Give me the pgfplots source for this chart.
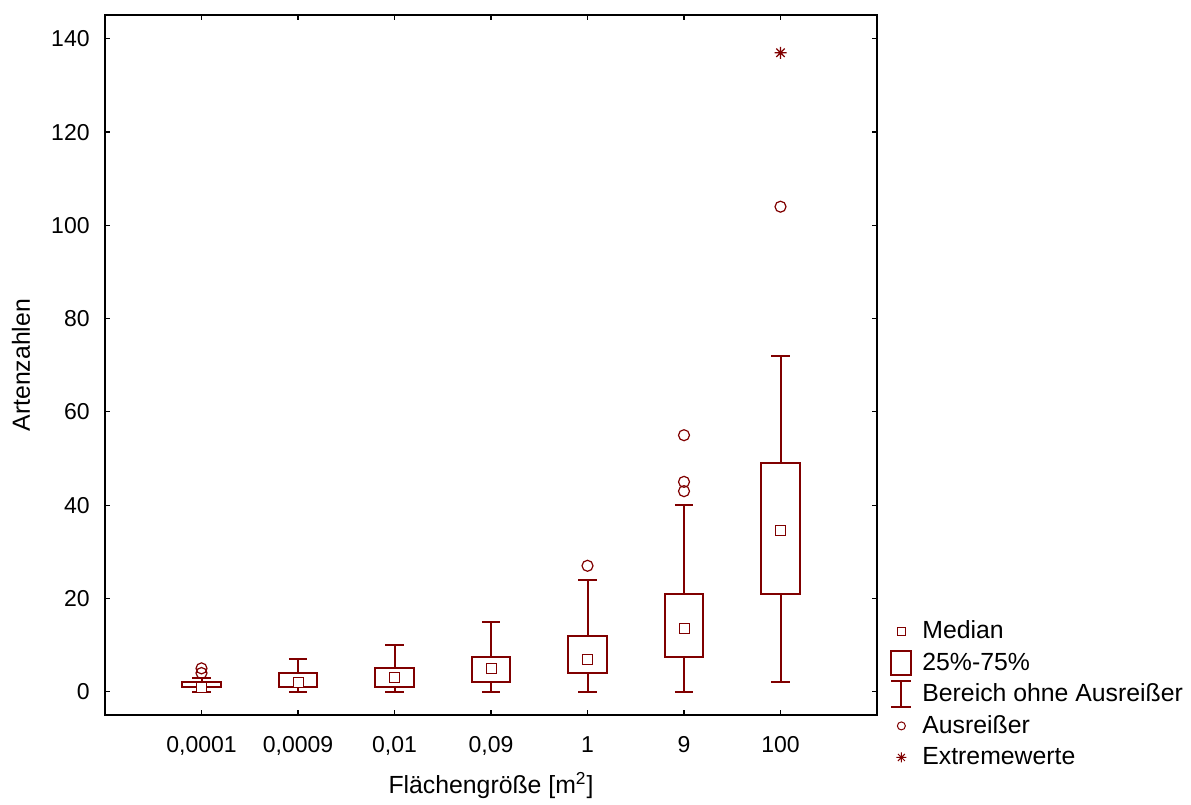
\documentclass[border=0pt]{standalone}
\usepackage{fontspec}
\setmainfont{Liberation Sans}
\usepackage{pgfplots}
\usepgfplotslibrary{statistics}
\pgfplotsset{compat=1.18}

\definecolor{boxred}{RGB}{128,0,0}

% eight-armed star for extreme values
\pgfdeclareplotmark{starburst}{%
  \pgfpathmoveto{\pgfqpoint{-\pgfplotmarksize}{0pt}}%
  \pgfpathlineto{\pgfqpoint{\pgfplotmarksize}{0pt}}%
  \pgfpathmoveto{\pgfqpoint{0pt}{-\pgfplotmarksize}}%
  \pgfpathlineto{\pgfqpoint{0pt}{\pgfplotmarksize}}%
  \pgfpathmoveto{\pgfqpoint{-.7\pgfplotmarksize}{-.7\pgfplotmarksize}}%
  \pgfpathlineto{\pgfqpoint{.7\pgfplotmarksize}{.7\pgfplotmarksize}}%
  \pgfpathmoveto{\pgfqpoint{-.7\pgfplotmarksize}{.7\pgfplotmarksize}}%
  \pgfpathlineto{\pgfqpoint{.7\pgfplotmarksize}{-.7\pgfplotmarksize}}%
  \pgfusepathqstroke}

\pgfplotsset{
  artbox/.style={boxred, line width=1pt, solid, mark=o, mark size=2.75pt,
    mark options={line width=0.6pt, solid, boxred}, forget plot},
}

\begin{document}
\begin{tikzpicture}
\begin{axis}[
  name=ax,
  scale only axis,
  width=386pt, height=349.75pt,
  xmin=-1, xmax=7,
  ymin=-5, ymax=145,
  xtick={0,1,2,3,4,5,6},
  xticklabels={{0,0001},{0,0009},{0,01},{0,09},1,9,100},
  ytick={0,20,...,140},
  tick pos=both,
  tick align=inside,
  major tick length=2.5pt,
  every tick/.style={black, line width=0.6pt},
  axis line style={line width=1pt},
  /pgf/number format/assume math mode=true,
  tick label style={font=\fontsize{11.5}{13}\selectfont},
  xticklabel style={anchor=base, yshift=-18.5pt},
  yticklabel style={anchor=east, inner sep=0pt, xshift=-7.5pt},
  xlabel={Flächengröße [m\textsuperscript{2}]},
  ylabel={Artenzahlen},
  every axis x label/.style={at={(axis description cs:0.5,-0.1115)}, anchor=base,
    font=\fontsize{12.4}{14}\selectfont},
  every axis y label/.style={at={(axis description cs:-0.1088,0.5)}, rotate=90, anchor=center,
    font=\fontsize{12.4}{14}\selectfont},
  boxplot/draw direction=y,
  boxplot/box extend=0.4,
  boxplot/whisker extend=0.19,
  boxplot/draw/median/.code={%
    \node[draw=boxred, line width=0.5pt, fill=white, minimum size=5pt, inner sep=0pt]
      at (boxplot box cs:\pgfplotsboxplotvalue{median},0.5) {};},
  legend style={draw=none, fill=none, at={(axis description cs:1.0168,0.1426)},
    anchor=north west, inner sep=0pt, row sep=0pt, column sep=5pt,
    font=\fontsize{12.4}{14}\selectfont,
    nodes={inner sep=0pt}},
  legend cell align=left,
]

% 0,0001 m2
\addplot[artbox, boxplot prepared={draw position=0,
  lower whisker=0, lower quartile=1, median=1, upper quartile=2, upper whisker=3}]
  coordinates {(0,4) (0,5)};
% 0,0009 m2
\addplot[artbox, boxplot prepared={draw position=1,
  lower whisker=0, lower quartile=1, median=2, upper quartile=4, upper whisker=7}]
  coordinates {};
% 0,01 m2
\addplot[artbox, boxplot prepared={draw position=2,
  lower whisker=0, lower quartile=1, median=3, upper quartile=5, upper whisker=10}]
  coordinates {};
% 0,09 m2
\addplot[artbox, boxplot prepared={draw position=3,
  lower whisker=0, lower quartile=2, median=5, upper quartile=7.5, upper whisker=15}]
  coordinates {};
% 1 m2
\addplot[artbox, boxplot prepared={draw position=4,
  lower whisker=0, lower quartile=4, median=7, upper quartile=12, upper whisker=24}]
  coordinates {(4,27)};
% 9 m2
\addplot[artbox, boxplot prepared={draw position=5,
  lower whisker=0, lower quartile=7.5, median=13.5, upper quartile=21, upper whisker=40}]
  coordinates {(5,43) (5,45) (5,55)};
% 100 m2
\addplot[artbox, boxplot prepared={draw position=6,
  lower whisker=2, lower quartile=21, median=34.5, upper quartile=49, upper whisker=72}]
  coordinates {(6,104)};
% extreme value
\addplot[boxred, only marks, mark=starburst, mark size=3pt, line width=0.6pt, forget plot]
  coordinates {(6,137)};

% legend
\addlegendimage{legend image code/.code={%
  \path[draw=none, fill=none] (0pt,-7.875pt) rectangle (11pt,7.875pt);
  \draw[boxred, line width=0.5pt, fill=none] (3.6pt,-1.9pt) rectangle (7.4pt,1.9pt);}}
\addlegendentry{Median}
\addlegendimage{legend image code/.code={%
  \path[draw=none, fill=none] (0pt,-7.875pt) rectangle (11pt,7.875pt);
  \draw[boxred, line width=1pt, fill=none] (0.5pt,-6pt) rectangle (10.5pt,6pt);}}
\addlegendentry{25\%-75\%}
\addlegendimage{legend image code/.code={%
  \path[draw=none, fill=none] (0pt,-7.875pt) rectangle (11pt,7.875pt);
  \draw[boxred, line width=1pt] (0.5pt,-6.5pt) -- (10.5pt,-6.5pt)
    (5.5pt,-6.5pt) -- (5.5pt,6.5pt) (0.5pt,6.5pt) -- (10.5pt,6.5pt);}}
\addlegendentry{Bereich ohne Ausreißer}
\addlegendimage{legend image code/.code={%
  \path[draw=none, fill=none] (0pt,-7.875pt) rectangle (11pt,7.875pt);
  \draw[boxred, line width=0.5pt, fill=none] (5.5pt,0pt) circle[radius=2pt];}}
\addlegendentry{Ausreißer}
\addlegendimage{legend image code/.code={%
  \path[draw=none, fill=none] (0pt,-7.875pt) rectangle (11pt,7.875pt);
  \draw[boxred, line width=0.5pt] (3pt,0pt) -- (8pt,0pt) (5.5pt,-2.5pt) -- (5.5pt,2.5pt)
    (3.75pt,-1.75pt) -- (7.25pt,1.75pt) (3.75pt,1.75pt) -- (7.25pt,-1.75pt);}}
\addlegendentry{Extremewerte}
\end{axis}
\path ([shift={(-52.5pt,-43.5pt)}]ax.south west) rectangle ([shift={(157pt,7.75pt)}]ax.north east);
\end{tikzpicture}
\end{document}
